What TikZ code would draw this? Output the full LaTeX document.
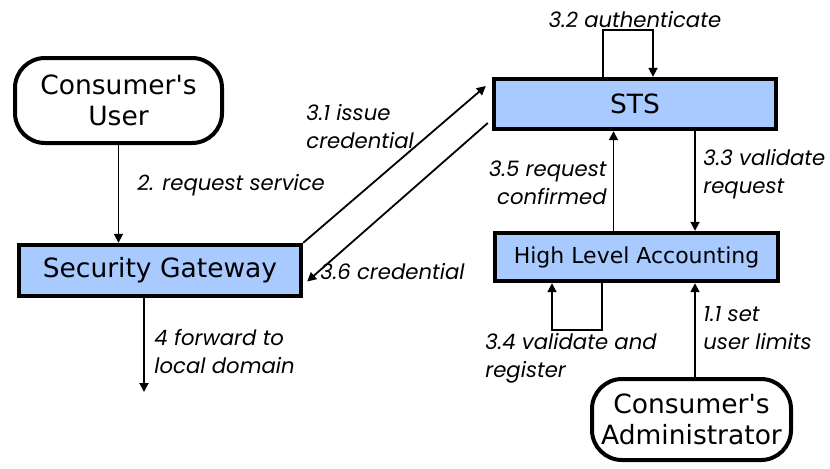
\documentclass[tikz,border=0pt]{standalone}
\usepackage{fontspec}
\setmainfont{DejaVu Sans}[Ligatures=TeXOff]
\newfontfamily\lblfont{Poppins}
\usetikzlibrary{arrows.meta,calc}
\definecolor{boxblue}{RGB}{168,202,255}

\begin{document}
\begin{tikzpicture}[x=0.5pt,y=-0.5pt,
  unit/.style={draw,line width=2.2pt,fill=boxblue,inner sep=0pt,font=\fontsize{13.25}{16}\selectfont},
  actor/.style={draw,line width=2pt,rounded corners=15pt,align=center,inner sep=0pt,font=\fontsize{13.25}{15.5}\selectfont},
  lbl/.style={inner sep=0pt,font=\lblfont\itshape\fontsize{10.6}{14}\selectfont},
  flow/.style={-{Triangle[length=4.5pt,width=4.5pt]},line width=0.9pt}]
\useasboundingbox (0,0) rectangle (830,468);

\node[actor,minimum width=103.5pt,minimum height=42.5pt] (cu) at (118.5,100.5) {Consumer's\\User};
\node[unit,minimum width=141pt,minimum height=25.5pt] (sg) at (160,270.5) {Security Gateway};
\node[unit,minimum width=141pt,minimum height=25pt] (sts) at (635,104) {STS};
\node[unit,minimum width=141.5pt,minimum height=24pt,font=\fontsize{11}{13}\selectfont] (hla) at (636.5,257) {High Level Accounting};
\node[actor,minimum width=99.5pt,minimum height=40.5pt] (adm) at (691.5,419.5) {Consumer's\\Administrator};
\coordinate (out) at (144,392);

% flows
\draw[flow] (cu) -- (cu |- sg.north);
\draw[flow] (sg.south -| out) -- (out);
\draw[flow] (sg.north east) -- ([shift={(-6,-18)}]sts.west);
\draw[flow] ([shift={(-4,19)}]sts.west) -- ([shift={(4,11)}]sg.east);
\draw[flow] ([shift={(-32,0)}]sts.north) -- ++(0,-47) -| ([shift={(18,0)}]sts.north);
\draw[flow] ([shift={(60,0)}]sts.south) -- ([shift={(60,0)}]sts.south |- hla.north);
\draw[flow] ([shift={(-23,0)}]hla.north) -- ([shift={(-23,0)}]hla.north |- sts.south);
\draw[flow] ([shift={(-34.5,0)}]hla.south) -- ++(0,47) -| ([shift={(-84.5,0)}]hla.south);
\draw[flow] ([shift={(3.5,0)}]adm.north) -- ([shift={(3.5,0)}]adm.north |- hla.south);

% labels
\node[lbl,anchor=west] (l2) at (137,185) {2. request service};
\node[lbl,anchor=west,align=left] (l31) at (306,127) {3.1 issue\\credential};
\node[lbl] (l32) at (635,20) {3.2 authenticate};
\node[lbl,anchor=west,align=left] (l33) at (703,174) {3.3 validate\\request};
\node[lbl,anchor=west,align=left] (l34) at (485,358) {3.4 validate and\\register};
\node[lbl,anchor=east,align=right] (l35) at (607,183) {3.5 request\\confirmed};
\node[lbl,anchor=west] (l36) at (320,272) {3.6 credential};
\node[lbl,anchor=west,align=left] (l4) at (154,351) {4 forward to\\local domain};
\node[lbl,anchor=west,align=left] (l11) at (703,328) {1.1 set\\user limits};
\end{tikzpicture}
\end{document}
